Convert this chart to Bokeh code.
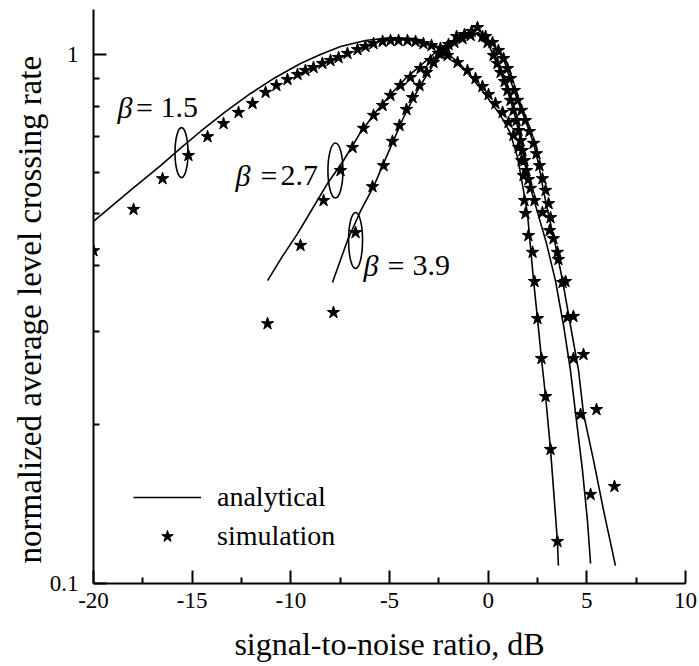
from bokeh.plotting import figure
from bokeh.models import Range1d, FixedTicker, Label, Legend, LegendItem, Title
from bokeh.embed import file_html
from bokeh.resources import INLINE

FONT = "Liberation Serif"

# ---- axes ----
x_ticks = [-20, -15, -10, -5, 0, 5, 10]
x_tick_labels = ["-20", "-15", "-10", "-5", "0", "5", "10"]
x_minor_ticks = [-17.5, -12.5, -7.5, -2.5, 2.5, 7.5]
y_ticks = [0.1, 1]
y_tick_labels = ["0.1", "1"]
y_minor_ticks = [0.2, 0.3, 0.4, 0.5, 0.6, 0.7, 0.8, 0.9]
x_title = "signal-to-noise ratio, dB"
y_title = "normalized average level crossing rate"

# ---- beta = 1.5 ----
b15_line_x = [-20.00, -18.13, -16.60, -15.54, -14.58, -13.31, -12.04, -10.78, -9.51, -8.50,
              -7.48, -6.22, -4.95, -3.68, -2.42, -1.40, -0.39, 0.63, 1.13, 1.49, 1.79, 1.99,
              2.30, 2.50, 2.70, 2.91, 3.16, 3.51, 3.56]
b15_line_y = [0.484, 0.554, 0.617, 0.668, 0.716, 0.781, 0.845, 0.906, 0.963, 1.001,
              1.037, 1.064, 1.078, 1.073, 1.032, 0.959, 0.864, 0.768, 0.710, 0.639, 0.554, 0.501,
              0.374, 0.317, 0.2664, 0.2258, 0.1793, 0.1201, 0.1081]
b15_sim_x = [-20.00, -17.97, -16.50, -15.19, -14.22, -13.41, -12.65, -11.94, -11.28, -10.73,
             -10.17, -9.66, -9.26, -8.85, -8.40, -7.99, -7.58, -7.13, -6.62, -6.22, -5.81,
             -5.35, -4.95, -4.54, -4.09, -3.68, -3.28, -2.87, -2.42, -2.06, -1.55, -1.05,
             -0.64, -0.29, 0.02, 0.37, 0.73, 1.03, 1.28, 1.54, 1.69, 1.79, 1.84, 1.89, 2.04,
             2.25, 2.35, 2.50, 2.70, 2.91, 3.16, 3.51]
b15_sim_y = [0.426, 0.510, 0.583, 0.645, 0.700, 0.741, 0.778, 0.809, 0.849, 0.875,
             0.898, 0.918, 0.934, 0.946, 0.963, 0.9755, 0.988, 1.006, 1.023, 1.037, 1.050,
             1.060, 1.064, 1.064, 1.064, 1.060, 1.050, 1.041, 1.028, 0.997, 0.967, 0.934,
             0.902, 0.871, 0.841, 0.809, 0.778, 0.745, 0.704, 0.668, 0.631, 0.591, 0.530, 0.501, 0.455,
             0.423, 0.3725, 0.317, 0.2664, 0.2258, 0.1793, 0.1201]

# ---- beta = 2.7 ----
b27_line_x = [-11.18, -10.42, -9.66, -8.90, -8.14, -7.33, -6.47, -5.71, -4.95, -4.19, -3.43,
              -2.67, -1.91, -1.15, -0.49, 0.27, 0.78, 1.13, 1.49, 1.89, 2.30, 2.55, 2.80, 3.01,
              3.41, 3.77, 4.17, 4.58, 4.83, 5.34, 5.85, 6.45]
b27_line_y = [0.374, 0.416, 0.459, 0.512, 0.571, 0.631, 0.713, 0.778, 0.841, 0.902, 0.954,
              1.010, 1.055, 1.083, 1.097, 1.041, 0.984, 0.894, 0.820, 0.751, 0.680, 0.623, 0.554, 0.508,
              0.436, 0.374, 0.3076, 0.253, 0.2097, 0.1709, 0.1374, 0.1081]
b27_sim_x = [-11.18, -9.51, -8.34, -7.48, -6.87, -6.32, -5.81, -5.35, -4.95, -4.44, -3.94,
             -3.43, -2.92, -2.52, -2.11, -1.71, -1.30, -0.89, -0.13, 0.22, 0.52, 0.78, 0.98,
             1.13, 1.33, 1.49, 1.69, 1.89, 2.09, 2.30, 2.45, 2.60, 2.75, 2.91, 3.06, 3.16,
             3.31, 3.56, 3.92, 4.32, 4.83, 5.49, 6.40]
b27_sim_y = [0.310, 0.436, 0.530, 0.604, 0.668, 0.726, 0.768, 0.802, 0.838, 0.875, 0.906,
             0.942, 0.9755, 1.006, 1.032, 1.055, 1.073, 1.088, 1.083, 1.055, 1.019, 0.984, 0.942,
             0.902, 0.856, 0.820, 0.785, 0.751, 0.716, 0.680, 0.650, 0.617, 0.583, 0.554, 0.523, 0.492,
             0.449, 0.410, 0.3725, 0.320, 0.2711, 0.2133, 0.1526]

# ---- beta = 3.9 ----
b39_line_x = [-7.89, -7.13, -6.47, -5.81, -5.30, -4.80, -4.29, -3.78, -3.28, -2.77, -2.26,
              -1.65, -1.05, -0.49, -0.03, 0.27, 0.63, 0.98, 1.28, 1.54, 1.74, 1.94, 2.15, 2.40,
              2.96, 3.41, 3.82, 4.17, 4.43, 4.78, 5.03, 5.19]
b39_line_y = [0.371, 0.4455, 0.506, 0.563, 0.623, 0.688, 0.761, 0.830, 0.894, 0.959, 1.014,
              1.060, 1.088, 1.102, 1.055, 0.997, 0.926, 0.856, 0.785, 0.719, 0.659, 0.604, 0.559, 0.519,
              0.439, 0.374, 0.3076, 0.253, 0.2097, 0.1636, 0.1316, 0.1091]
b39_sim_x = [-7.84, -6.72, -5.86, -5.30, -4.85, -4.49, -4.14, -3.83, -3.48, -3.12, -2.77,
             -2.42, -2.01, -1.60, -1.20, -0.84, -0.54, -0.29, -0.03, 0.27, 0.47, 0.63, 0.83,
             0.98, 1.13, 1.28, 1.44, 1.54, 1.64, 1.74, 1.84, 1.94, 2.04, 2.15, 2.35, 2.75,
             3.11, 3.51, 3.77, 4.02, 4.32, 4.68, 5.19]
b39_sim_y = [0.3255, 0.461, 0.563, 0.617, 0.686, 0.735, 0.788, 0.830, 0.875, 0.926, 0.967,
             1.006, 1.046, 1.083, 1.092, 1.107, 1.126, 1.083, 1.055, 0.997, 0.963, 0.926, 0.890,
             0.856, 0.820, 0.785, 0.751, 0.719, 0.688, 0.659, 0.631, 0.604, 0.581, 0.559, 0.530, 0.503,
             0.465, 0.423, 0.371, 0.3185, 0.2664, 0.2088, 0.1474]

# ---- annotations (beta labels and ellipses) ----
ann_num = ["1.5", "2.7", "3.9"]
ann_beta_x = [-18.78, -12.80, -6.32]
ann_eq_x = [-17.85, -11.54, -5.10]
ann_num_x = [-16.60, -10.52, -3.83]
ann_y = [0.795, 0.591, 0.3995]
ell_x = [-15.54, -7.74, -6.72]
ell_y = [0.653, 0.604, 0.4455]
ell_w = [13, 15, 14]
ell_h = [50, 55, 56]

p = figure(width=699, height=666, x_range=Range1d(-20, 10), y_range=Range1d(0.1, 1.218),
           y_axis_type="log", output_backend="svg", toolbar_location=None,
           min_border_left=93, min_border_right=14, min_border_top=9, min_border_bottom=83)
p.outline_line_color = None
p.xgrid.visible = False
p.ygrid.visible = False
p.background_fill_color = "white"
p.border_fill_color = "white"

p.xaxis.ticker = FixedTicker(ticks=x_ticks, minor_ticks=x_minor_ticks)
p.xaxis.major_label_overrides = {t: l for t, l in zip(x_ticks, x_tick_labels)}
p.yaxis.ticker = FixedTicker(ticks=y_ticks, minor_ticks=y_minor_ticks)
p.yaxis.major_label_overrides = {t: l for t, l in zip(y_ticks, y_tick_labels)}

for ax in (p.xaxis, p.yaxis):
    ax.axis_line_width = 2
    ax.axis_line_color = "black"
    ax.major_tick_line_width = 2
    ax.minor_tick_line_width = 2
    ax.major_tick_line_color = "black"
    ax.minor_tick_line_color = "black"
    ax.major_tick_in = 13
    ax.major_tick_out = 0
    ax.minor_tick_in = 6
    ax.minor_tick_out = 0
    ax.major_label_text_font = FONT
    ax.major_label_text_font_size = "23px"
    ax.major_label_text_color = "black"
    ax.axis_label_text_font = FONT
    ax.axis_label_text_font_style = "normal"
    ax.axis_label_text_color = "black"

p.xaxis.axis_label = x_title
p.xaxis.axis_label_text_font_size = "32px"
p.xaxis.major_label_standoff = 9
p.xaxis.axis_label_standoff = 15
p.yaxis.major_label_standoff = 15

# y title as a left-side Title, started near the bottom of the frame
p.add_layout(Title(text=y_title, align="left", offset=20, standoff=-2, vertical_align="bottom",
                   text_font=FONT, text_font_size="33px", text_font_style="normal",
                   text_color="black"), "left")

lw = 1.6
r_line = p.line(b15_line_x, b15_line_y, line_color="black", line_width=lw)
p.line(b27_line_x, b27_line_y, line_color="black", line_width=lw)
p.line(b39_line_x, b39_line_y, line_color="black", line_width=lw)

sz = 13
r_star = p.scatter(b15_sim_x, b15_sim_y, marker="star", size=sz, fill_color="black", line_color="black")
p.scatter(b27_sim_x, b27_sim_y, marker="star", size=sz, fill_color="black", line_color="black")
p.scatter(b39_sim_x, b39_sim_y, marker="star", size=sz, fill_color="black", line_color="black")

p.ellipse(x=ell_x, y=ell_y, width=ell_w, height=ell_h, width_units="screen", height_units="screen",
          fill_alpha=0, line_color="black", line_width=1.6)

for i in range(3):
    p.add_layout(Label(x=ann_beta_x[i], y=ann_y[i], text="β", text_font=FONT, text_font_size="30px",
                       text_font_style="italic", text_color="black", text_baseline="alphabetic"))
    p.add_layout(Label(x=ann_eq_x[i], y=ann_y[i], text="=", text_font=FONT, text_font_size="30px",
                       text_color="black", text_baseline="alphabetic"))
    p.add_layout(Label(x=ann_num_x[i], y=ann_y[i], text=ann_num[i], text_font=FONT, text_font_size="30px",
                       text_color="black", text_baseline="alphabetic"))

legend = Legend(items=[LegendItem(label="analytical", renderers=[r_line]),
                       LegendItem(label="simulation", renderers=[r_star])],
                location=(40, 31), glyph_width=68, glyph_height=30, label_height=30,
                label_standoff=16, spacing=7, padding=0, margin=0,
                border_line_alpha=0, background_fill_alpha=0,
                label_text_font=FONT, label_text_font_size="28px", label_text_color="black")
p.add_layout(legend)

open("out.html", "w").write(file_html(p, INLINE))
